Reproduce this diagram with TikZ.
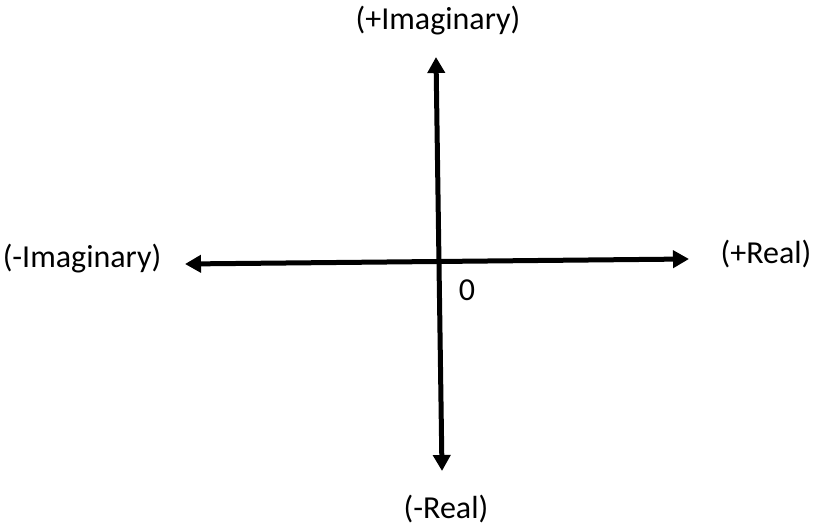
\documentclass[tikz,border=0pt]{standalone}
\usepackage{fontspec}
\setmainfont{Carlito}
\usetikzlibrary{arrows.meta}
\begin{document}
\begin{tikzpicture}[x=1pt,y=-1pt,
  lbl/.style={font=\fontsize{32}{36}\selectfont, inner sep=0pt, anchor=center},
  axis/.style={line width=5pt, {Triangle[length=16pt,width=17pt]}-{Triangle[length=16pt,width=17pt]}}]
\useasboundingbox (0,0) rectangle (814,527);
\coordinate (L) at (185,264);
\coordinate (R) at (689,259);
\coordinate (T) at (436,57);
\coordinate (B) at (442,471);
\draw[axis] (L) -- (R);
\draw[axis] (T) -- (B);
\node[lbl] (pi) at (438,21) {(+Imaginary)};
\node[lbl] (mi) at (82,259) {(-Imaginary)};
\node[lbl] (pr) at (766,254) {(+Real)};
\node[lbl] (mr) at (446,509) {(-Real)};
\node[lbl] (zero) at (467,290) {0};
\end{tikzpicture}
\end{document}
